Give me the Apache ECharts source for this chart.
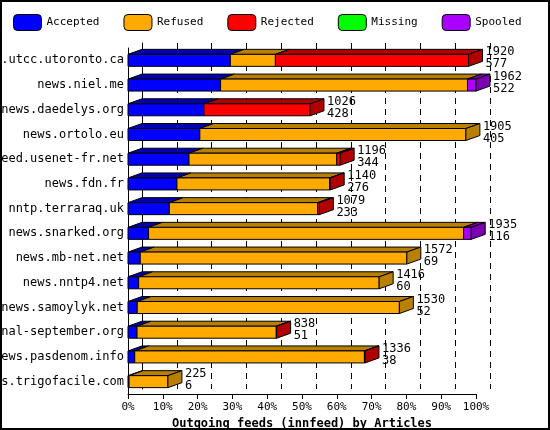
<!DOCTYPE html><html><head><meta charset="utf-8">
<script src="https://cdn.jsdelivr.net/npm/echarts@6/dist/echarts.min.js"></script>
<style>html,body{margin:0;padding:0;background:#fff}#c{width:546px;height:426px;border:2px solid #000}</style>
</head><body><div id="c"></div><script>
const categories=["nut.utcc.utoronto.ca","news.niel.me","news.daedelys.org","news.ortolo.eu","feed.usenet-fr.net","news.fdn.fr","nntp.terraraq.uk","news.snarked.org","news.mb-net.net","news.nntp4.net","news.samoylyk.net","eternal-september.org","news.pasdenom.info","news.trigofacile.com"];
const totals=[1920,1962,1026,1905,1196,1140,1079,1935,1572,1416,1530,838,1336,225];
const accepted=[577,522,428,405,344,276,233,116,69,60,52,51,38,6];
const refused=[254,1392,0,1500,833,861,836,1776,1503,1356,1478,785,1295,219];
const rejected=[1089,0,598,0,19,3,10,0,0,0,0,2,3,0];
const missing=[0,0,0,0,0,0,0,0,0,0,0,0,0,0];
const spooled=[0,48,0,0,0,0,0,43,0,0,0,0,0,0];
const tickLabels=["0%","10%","20%","30%","40%","50%","60%","70%","80%","90%","100%"];
const names=["Accepted","Refused","Rejected","Missing","Spooled"];
const front=["#0000ff","#ffaa00","#ff0000","#00ff00","#aa00ff"];
const dark=["#0000b0","#b88000","#b00000","#00b000","#7a00b0"];
const arrs=[accepted,refused,rejected,missing,spooled];
const MAX=1962, DX=14, DY=5, H=12;
const font='"DejaVu Sans Mono", monospace';
function lastIdx(i){let l=0;arrs.forEach((a,k)=>{if(a[i]>0)l=k;});return l;}
const series=names.map((n,k)=>({
  name:n,type:'custom',itemStyle:{color:front[k]},
  data:categories.map((c,i)=>{let s=0;for(let j=0;j<k;j++)s+=arrs[j][i];return [i,s,s+arrs[k][i]];}),
  renderItem:(p,api)=>{
    const i=api.value(0),s=api.value(1),e=api.value(2);
    if(e<=s)return;
    const a=api.coord([s,i]),b=api.coord([e,i]);
    const y0=a[1]-H/2, st={stroke:'#000',lineWidth:1};
    const ch=[
      {type:'polygon',shape:{points:[[a[0],y0],[b[0],y0],[b[0]+DX,y0-DY],[a[0]+DX,y0-DY]]},style:Object.assign({fill:dark[k]},st)},
      {type:'rect',shape:{x:a[0],y:y0,width:b[0]-a[0],height:H},style:Object.assign({fill:front[k]},st)}
    ];
    if(lastIdx(i)===k){
      ch.push({type:'polygon',shape:{points:[[b[0],y0],[b[0]+DX,y0-DY],[b[0]+DX,y0+H-DY],[b[0],y0+H]]},style:Object.assign({fill:dark[k]},st)});
      ch.push({type:'text',style:{text:totals[i]+'\n'+accepted[i],x:b[0]+DX+3,y:y0-DY-3,fill:'#000',font:'12px '+font,lineHeight:12}});
    }
    return {type:'group',children:ch};
  }
}));
series.push({type:'custom',xAxisIndex:1,yAxisIndex:1,data:[],renderItem:()=>{}});
const ch=echarts.init(document.getElementById('c'));
ch.setOption({
  animation:false,
  textStyle:{fontFamily:font},
  legend:{top:7,left:6,itemGap:24,itemWidth:28,itemHeight:16,textStyle:{fontFamily:font,fontSize:11,color:'#000'},
    data:names.map((n,k)=>({name:n,itemStyle:{color:front[k],borderColor:'#000',borderWidth:1}}))},
  grid:[{left:126,right:72,top:46,bottom:34,outerBoundsMode:'none'},{left:140,right:58,top:41,bottom:39,outerBoundsMode:'none'}],
  xAxis:[{type:'value',min:0,max:MAX,interval:MAX/10,
    axisLine:{show:true,lineStyle:{color:'#000'}},axisTick:{show:true,length:5,lineStyle:{color:'#000'}},splitLine:{show:false},
    axisLabel:{color:'#000',fontFamily:font,fontSize:11,formatter:(v)=>tickLabels[Math.round(v/MAX*10)]},
    name:'Outgoing feeds (innfeed) by Articles',nameLocation:'middle',nameGap:21,
    nameTextStyle:{fontFamily:font,fontSize:12,fontWeight:'bold',color:'#000'}},
   {gridIndex:1,type:'value',min:0,max:MAX,interval:MAX/10,axisLine:{show:false},axisTick:{show:false},axisLabel:{show:false},
    splitLine:{show:true,lineStyle:{color:'#000',type:[6,5]}}}],
  yAxis:[{type:'category',data:categories,inverse:true,
    axisLine:{show:true,lineStyle:{color:'#000'}},axisTick:{show:false},
    axisLabel:{color:'#000',fontFamily:font,fontSize:12,margin:4}},
   {gridIndex:1,type:'category',data:categories,position:'right',axisLine:{show:true,lineStyle:{color:'#000'}},axisTick:{show:false},axisLabel:{show:false}}],
  series:series
});
</script></body></html>
